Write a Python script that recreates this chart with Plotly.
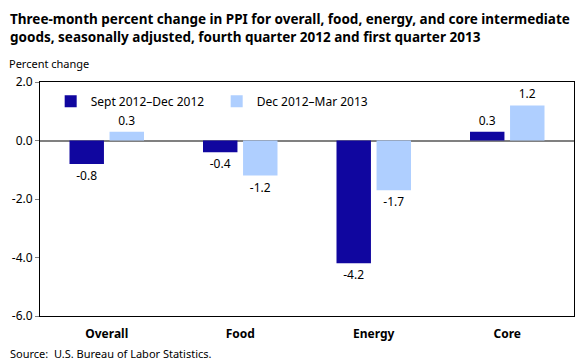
import plotly.graph_objects as go

categories = ["Overall", "Food", "Energy", "Core"]
series1_name = "Sept 2012\u2013Dec 2012"
series1 = [-0.8, -0.4, -4.2, 0.3]
series2_name = "Dec 2012\u2013Mar 2013"
series2 = [0.3, -1.2, -1.7, 1.2]
tick_vals = [2, 0, -2, -4, -6]
tick_text = ["2.0", "0.0", "-2.0", "-4.0", "-6.0"]

FONT = "Noto Sans"

fig = go.Figure()
fig.add_trace(go.Bar(
    x=categories, y=series1, name=series1_name,
    marker=dict(color="#10069F", line=dict(width=0)),
    text=[f"{v:.1f}" for v in series1], textposition="outside",
    textfont=dict(size=12, color="#000000", family=FONT), cliponaxis=False,
))
fig.add_trace(go.Bar(
    x=categories, y=series2, name=series2_name,
    marker=dict(color="#AFCFFF", line=dict(width=0)),
    text=[f"{v:.1f}" for v in series2], textposition="outside",
    textfont=dict(size=12, color="#000000", family=FONT), cliponaxis=False,
))

fig.update_layout(
    width=580, height=360,
    margin=dict(l=40, r=6, t=82, b=44),
    paper_bgcolor="white", plot_bgcolor="white",
    barmode="group", bargap=0.40, bargroupgap=0.14,
    font=dict(family=FONT, size=12, color="#000000"),
    showlegend=True,
    legend=dict(orientation="h", x=0.02, y=0.98, xanchor="left", yanchor="top",
                font=dict(size=12, family=FONT), bgcolor="rgba(0,0,0,0)",
                itemwidth=30, traceorder="normal", entrywidth=121),
    xaxis=dict(showline=True, linecolor="#000000", linewidth=1, mirror=True,
               showgrid=False, ticks="", tickfont=dict(size=12, family=FONT),
               tickprefix="<b>", ticksuffix="</b>", ticklabelstandoff=7),
    yaxis=dict(range=[-6, 2], tickvals=tick_vals, ticktext=tick_text,
               showline=True, linecolor="#000000", linewidth=1, mirror=True,
               showgrid=False, zeroline=True, zerolinecolor="#808080", zerolinewidth=1.5,
               ticks="outside", ticklen=4, tickcolor="#808080",
               tickfont=dict(size=12, family=FONT)),
)

fig.add_annotation(
    text="<b>Three-month percent change in PPI for overall, food, energy, and core intermediate<br>goods, seasonally adjusted, fourth quarter 2012 and first quarter 2013</b>",
    xref="paper", yref="paper", x=0, y=1, xshift=-32, yshift=74,
    xanchor="left", yanchor="top", align="left", showarrow=False,
    font=dict(size=13.5, family=FONT, color="#000000"),
)
fig.add_annotation(
    text="Percent change", xref="paper", yref="paper", x=0, y=1, xshift=-33, yshift=28,
    xanchor="left", yanchor="top", align="left", showarrow=False,
    font=dict(size=11, family=FONT),
)
fig.add_annotation(
    text="Source:  U.S. Bureau of Labor Statistics.", xref="paper", yref="paper",
    x=0, y=0, xshift=-32, yshift=-28, xanchor="left", yanchor="top", showarrow=False,
    font=dict(size=11, family=FONT),
)

fig.write_html("out.html", config={"displayModeBar": False},
               post_script="document.body.style.margin='0';")
